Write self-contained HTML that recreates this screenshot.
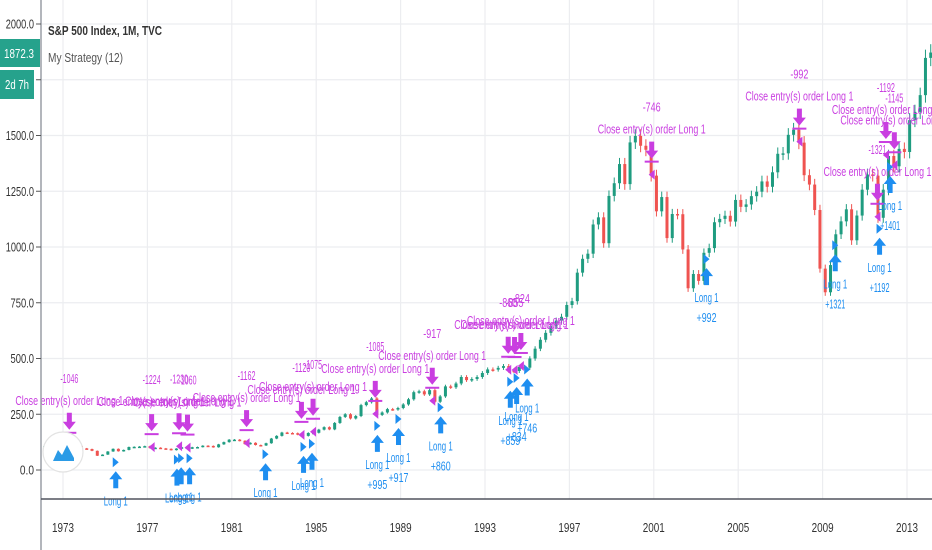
<!DOCTYPE html>
<html><head><meta charset="utf-8">
<style>
html,body{margin:0;padding:0;background:#fff;}
svg{display:block;font-family:"Liberation Sans",sans-serif;}
</style></head>
<body>
<svg id="chart" width="932" height="550" viewBox="0 0 932 550">
  <g id="grid"></g>
  <g id="candles"></g>
  <g id="trades"></g>
  <line x1="41" y1="0" x2="41" y2="550" stroke="#9a9ea6" stroke-width="1.5"/>
  <line x1="41" y1="499" x2="932" y2="499" stroke="#50535e" stroke-width="1.5"/>
  <g id="yaxis"></g>
  <g id="xaxis"></g>
  <text x="48" y="35" font-size="13" font-weight="bold" fill="#333" textLength="114" lengthAdjust="spacingAndGlyphs">S&amp;P 500 Index, 1M, TVC</text>
  <text x="48" y="62" font-size="13" fill="#555" textLength="75" lengthAdjust="spacingAndGlyphs">My Strategy (12)</text>
  <rect x="0" y="39" width="40" height="28" fill="#26a28c"/>
  <text x="4" y="58" font-size="13" fill="#fff" textLength="30" lengthAdjust="spacingAndGlyphs">1872.3</text>
  <rect x="0" y="70" width="34" height="29" fill="#26a28c"/>
  <text x="5" y="89" font-size="13" fill="#fff" textLength="24" lengthAdjust="spacingAndGlyphs">2d 7h</text>
  <g>
    <circle cx="63" cy="452" r="20" fill="#fff" stroke="#e3e3e3" stroke-width="1.2"/>
    <path d="M53 461 L58 450 L62 455 L67 445 L74 458 L74 461 Z" fill="#2b9be6"/>
  </g>
</svg>
<script>
const startYear = 1972;
const quarterCloses = [
107,107,110,118, 111,104,108,97, 94,86,64,69, 83,95,84,90,
103,104,105,107, 98,100,97,95, 89,96,102,96, 102,103,109,108,
102,115,125,136, 136,131,116,122, 112,110,120,141, 153,168,166,165,
159,153,166,167, 181,192,182,211, 238,250,231,242, 291,304,321,247,
258,273,271,278, 294,317,349,353, 339,358,306,330, 375,371,388,417,
403,408,417,435, 451,450,458,466, 445,444,462,459, 500,544,584,615,
645,670,687,740, 757,885,947,970, 1101,1133,1017,1229, 1286,1372,1282,1469,
1498,1454,1436,1320, 1160,1224,1040,1148, 1147,989,815,879, 848,974,995,1111,
1126,1140,1114,1211, 1180,1191,1228,1248, 1294,1270,1335,1418, 1420,1503,1526,1468,
1322,1280,1166,903, 797,919,1057,1115, 1169,1030,1141,1257, 1325,1320,1131,1257,
1408,1362,1440,1426, 1569,1606,1681,1848, 1872];
const yTicks = [0,250,500,750,1000,1250,1500,1750,2000];
const yTickLabels = ["0.0","250.0","500.0","750.0","1000.0","1250.0","1500.0","","2000.0"];
const xTicks = [1973,1977,1981,1985,1989,1993,1997,2001,2005,2009,2013];
const closeDates = [1973.3,1977.2,1978.5,1978.9,1981.7,1984.3,1984.85,1987.8,1990.5,1994.1,1994.4,1994.7,2000.9,2007.9,2011.6,2012.0,2012.4];
const closeLabels = ["-1046","-1224","-1230","-1060","-1162","-1120","-1075","-1085","-917","-860","-855","-824","-746","-992","-1321","-1192","-1145"];
const longDates = [1975.5,1978.4,1978.6,1979.0,1982.6,1984.4,1984.8,1987.9,1988.9,1990.9,1994.2,1994.5,1995.0,2003.5,2009.6,2011.7,2012.2];
const longLabels = ["","","","","","","","+995","+917","+860","+859","+834","+746","+992","+1321","+1192","+1401"];

const NS="http://www.w3.org/2000/svg";
const yPx=v=>470-v*0.223;
const xPx=t=>63+(t-1973)*21.1;
function mk(tag,attrs,parent){const e=document.createElementNS(NS,tag);for(const k in attrs)e.setAttribute(k,attrs[k]);parent.appendChild(e);return e;}
function priceAt(t){const i=Math.max(0,Math.min(quarterCloses.length-1,Math.round((t-startYear)*4-0.5)));return quarterCloses[i];}

const grid=document.getElementById('grid'),ya=document.getElementById('yaxis'),xa=document.getElementById('xaxis');
yTicks.forEach((v,i)=>{
  const l=mk('line',{x1:41,x2:932,y1:yPx(v),y2:yPx(v),stroke:'#ecedf0','stroke-width':1.2},grid);
  
  
  const tk=mk('line',{x1:36,x2:41,y1:yPx(v),y2:yPx(v),stroke:'#555'},ya);
  
  
  const lab=yTickLabels[i];
  if(lab){const w=lab.length*4.7;const t=mk('text',{x:34-w,y:yPx(v)+4.5,'font-size':13,fill:'#333',textLength:w,lengthAdjust:'spacingAndGlyphs'},ya);t.textContent=lab;
  
  }
});
xTicks.forEach(yr=>{
  const l=mk('line',{x1:xPx(yr),x2:xPx(yr),y1:0,y2:499,stroke:'#ecedf0','stroke-width':1.2},grid);
  
  
  const t=mk('text',{x:xPx(yr)-11,y:532,'font-size':13,fill:'#333',textLength:22,lengthAdjust:'spacingAndGlyphs'},xa);t.textContent=yr;
  
  
});
const cg=document.getElementById('candles');
let prev=quarterCloses[0]*0.98;
quarterCloses.forEach((c,i)=>{
  const t=startYear+i/4+0.125, x=xPx(t);
  const o=prev, up=c>=o, col=up?'#1f9c80':'#ef5350';
  const hi=Math.max(o,c)*1.02, lo=Math.min(o,c)*0.98;
  const w=mk('line',{x1:x,x2:x,y1:yPx(hi),y2:yPx(lo),stroke:col,'stroke-width':1},cg);
  
  
  const b=mk('rect',{x:x-1.5,y:yPx(Math.max(o,c)),width:3,height:Math.max(1.5,Math.abs(yPx(o)-yPx(c))),fill:col},cg);
  
  
  prev=c;
});
const tg=document.getElementById('trades');
const MAG='#c93ee0',BLUE='#1e8ef0';
closeDates.forEach((d,i)=>{
  const x=xPx(d), y=yPx(priceAt(d))-14;
  const a=mk('path',{d:`M${x-2.5} ${y-20} h5 v9 h4 l-6.5 8 l-6.5 -8 h4 z`,fill:MAG},tg);
  
  
  const bar=mk('line',{x1:x-7,x2:x+7,y1:y,y2:y,stroke:MAG,'stroke-width':2},tg);
  
  
  const tr=mk('path',{d:`M${x+3} ${y+8} l-6 5 l6 5 z`,fill:MAG},tg);
  
  
  const t=mk('text',{x:x-54,y:y-28,'font-size':13,fill:MAG,textLength:108,lengthAdjust:'spacingAndGlyphs'},tg);t.textContent='Close entry(s) order  Long 1';
  
  
  const n=mk('text',{x:x-9,y:y-50,'font-size':13,fill:MAG,textLength:18,lengthAdjust:'spacingAndGlyphs'},tg);n.textContent=closeLabels[i];
  
  
});
longDates.forEach((d,i)=>{
  const x=xPx(d), y=yPx(priceAt(d))+20;
  const tr=mk('path',{d:`M${x-3} ${y-14} l6 5 l-6 5 z`,fill:BLUE},tg);
  
  
  const a=mk('path',{d:`M${x} ${y} l6.5 8 h-4 v9 h-5 v-9 h-4 z`,fill:BLUE},tg);
  
  
  const t=mk('text',{x:x-12,y:y+34,'font-size':13,fill:BLUE,textLength:24,lengthAdjust:'spacingAndGlyphs'},tg);t.textContent='Long 1';
  
  
  if(longLabels[i]){const n=mk('text',{x:x-10,y:y+54,'font-size':13,fill:BLUE,textLength:20,lengthAdjust:'spacingAndGlyphs'},tg);n.textContent=longLabels[i];
  
  }
});
</script>
</body></html>
